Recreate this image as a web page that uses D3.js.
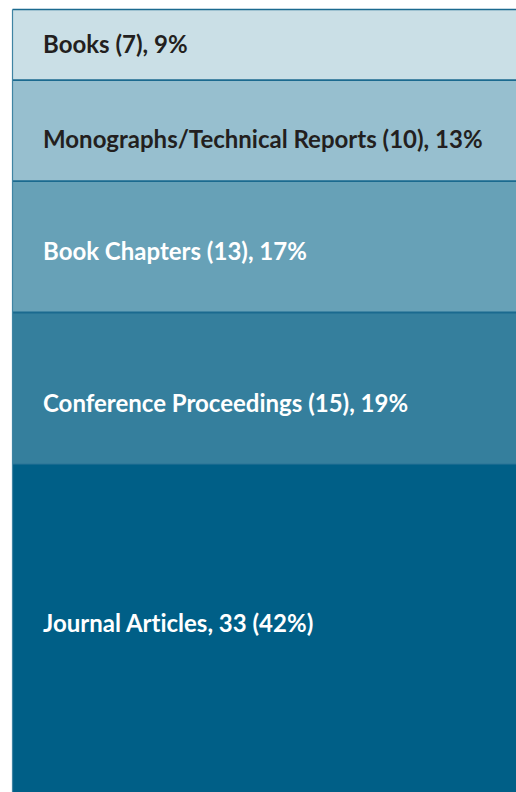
<!DOCTYPE html>
<html><head><meta charset="utf-8">
<script src="https://cdn.jsdelivr.net/npm/d3@7"></script>
<style>html,body{margin:0;padding:0;background:#fff;overflow:hidden} text{font-variant-ligatures:none;font-feature-settings:"liga" 0}</style>
</head><body><svg id="c" width="516" height="792"></svg>
<script>
const categories = ["Books", "Monographs/Technical Reports", "Book Chapters", "Conference Proceedings", "Journal Articles"];
const counts = [7, 10, 13, 15, 33];
const labels = ["Books (7), 9%", "Monographs/Technical Reports (10), 13%", "Book Chapters (13), 17%", "Conference Proceedings (15), 19%", "Journal Articles, 33 (42%)"];
const colors = ["#cadfe6", "#97bfcf", "#67a1b7", "#357f9d", "#005f87"];
const textColors = ["#231f20", "#231f20", "#ffffff", "#ffffff", "#ffffff"];

const total = d3.sum(counts);
let acc = 0;
const stack = counts.map((v, i) => { const s = {i, y0: acc, y1: acc + v}; acc += v; return s; });

const svg = d3.select("#c");
const y = d3.scaleLinear().domain([0, total]).range([9.5, 9.5 + total * 10.1]);
const x0 = 12.5, x1 = 530;
// label nudges relative to segment centre (px), to follow original layout
const nudge = [8.5, 17.5, 13.5, 23.5, 1];

const g = svg.append("g");
g.selectAll("rect").data(stack).join("rect")
  .attr("x", x0).attr("width", x1 - x0)
  .attr("y", d => y(d.y0)).attr("height", d => y(d.y1) - y(d.y0))
  .attr("fill", d => colors[d.i]);

g.selectAll("line.sep").data(stack.slice(0, 4)).join("line")
  .attr("class", "sep")
  .attr("x1", x0).attr("x2", x1)
  .attr("y1", d => y(d.y1)).attr("y2", d => y(d.y1))
  .attr("stroke", (d, i) => i === 3 ? "#2a7597" : "#1b6a8f").attr("stroke-width", (d,i)=> i===3?1:1.8);
g.append("line").attr("x1", x0).attr("x2", x1).attr("y1", y(0)).attr("y2", y(0))
  .attr("stroke", "#1b6a8f").attr("stroke-width", 1.5);
g.append("line").attr("x1", x0).attr("x2", x0).attr("y1", y(0)).attr("y2", y(total))
  .attr("stroke", "#3f84a3").attr("stroke-width", 1.2);

svg.selectAll("text").data(stack).join("text")
  .attr("x", 43)
  .attr("y", d => (y(d.y0) + y(d.y1)) / 2 + nudge[d.i])
  .attr("font-family", "Lato, 'Open Sans', sans-serif")
  .attr("font-weight", 700)
  .attr("font-size", 24)
  .attr("fill", d => textColors[d.i])
  .text(d => labels[d.i]);
</script></body></html>
